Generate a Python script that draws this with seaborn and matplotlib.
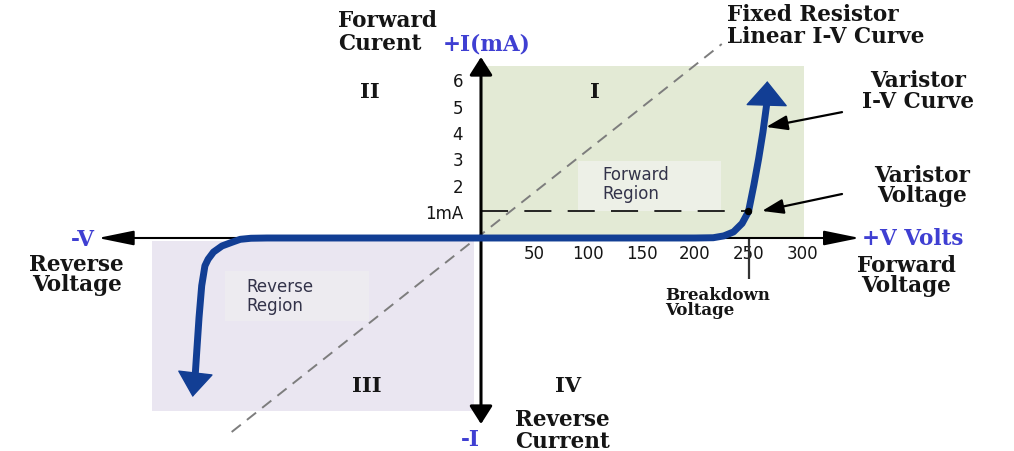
import matplotlib
matplotlib.use("Agg")
import matplotlib.pyplot as plt
from matplotlib.patches import Rectangle
import seaborn as sns

# ---- data -----------------------------------------------------------------
# Varistor I-V characteristic, forward branch (volts, mA)
fwd_volts = [0, 100, 200, 217, 227, 236, 244, 250, 255, 259.5, 263.5, 267]
fwd_ma = [0, 0, 0, 0.01, 0.08, 0.23, 0.55, 1.0, 2.0, 3.0, 4.0, 5.05]
fwd_tip_volts, fwd_tip_ma = 267.6, 5.92

# Reverse branch (volts, mA)
rev_volts = [0, -100, -200, -215, -225, -232, -242, -250, -255, -258, -261,
             -263.5, -265.5, -267]
rev_ma = [0, 0, 0, -0.01, -0.05, -0.15, -0.3, -0.53, -0.8, -1.05, -1.8,
          -3.0, -4.2, -5.13]
rev_tip_volts, rev_tip_ma = -269.5, -6.0

# Fixed resistor: straight line through the origin
resistor_volts = [-233, 225]
resistor_ma = [-7.32, 7.32]

# Varistor voltage at the 1 mA reference current
varistor_voltage = 250
varistor_current = 1.0

x_ticks = [50, 100, 150, 200, 250, 300]
y_ticks = [1, 2, 3, 4, 5, 6]
y_tick_labels = ["1mA", "2", "3", "4", "5", "6"]

# ---- style ----------------------------------------------------------------
sns.set_theme(style="white")
plt.rcParams["font.family"] = ["DejaVu Sans"]

BLUE = "#123e94"
LABEL_BLUE = "#3f3fd2"
INK = "#151515"
GREEN = "#e3ead5"
LILAC = "#eae6f1"
BIG = 15.5
SERIF = dict(family="DejaVu Serif", weight="bold", color=INK)
BLUE_SERIF = dict(family="DejaVu Serif", weight="bold", color=LABEL_BLUE)

fig = plt.figure(figsize=(10.14, 4.52), dpi=100)
ax = fig.add_axes([0, 0, 1, 1])
ax.set_xlim(-449.5, 498.1)
ax.set_ylim(-8.038, 9.019)
for side in ax.spines.values():
    side.set_visible(False)
ax.spines["bottom"].set_position(("data", 0))
ax.spines["left"].set_position(("data", 0))

# quadrant shading and region boxes
ax.add_patch(Rectangle((0, 0), 302, 6.5, fc=GREEN, ec="none", zorder=0))
ax.add_patch(Rectangle((-307, -6.53), 300, 6.42, fc=LILAC, ec="none", zorder=0))
ax.add_patch(Rectangle((91, 1.0), 133, 1.9, fc="#edf0e7", ec="none", zorder=0.5))
ax.add_patch(Rectangle((-239, -3.13), 134, 1.88, fc="#edebf0", ec="none", zorder=0.5))

# fixed resistor line
sns.lineplot(x=resistor_volts, y=resistor_ma, ax=ax, color="#7d7d7d", lw=1.4,
             linestyle=(0, (6, 4)), estimator=None, sort=False, zorder=1)

# 1 mA reference line
sns.lineplot(x=[0, varistor_voltage], y=[varistor_current, varistor_current],
             ax=ax, color=INK, lw=1.3, linestyle=(0, (15, 9)),
             estimator=None, sort=False, zorder=2)
ax.vlines(varistor_voltage, -1.55, 0, color="#333333", lw=1.6, zorder=2)

# axes with arrow heads
ax.annotate("", xy=(354, 0), xytext=(-358, 0),
            arrowprops=dict(arrowstyle="<|-|>,head_length=2.2,head_width=0.45",
                            color="black", lw=1.5, shrinkA=0, shrinkB=0,
                            mutation_scale=10), zorder=3)
ax.annotate("", xy=(0, 6.83), xytext=(0, -7.02),
            arrowprops=dict(arrowstyle="<|-|>,head_length=1.1,head_width=0.7",
                            color="black", lw=2.2, shrinkA=0, shrinkB=0,
                            mutation_scale=10), zorder=3)

# varistor curve
for vx, iy in ((fwd_volts, fwd_ma), (rev_volts, rev_ma)):
    sns.lineplot(x=vx, y=iy, ax=ax, color=BLUE, lw=5, estimator=None,
                 sort=False, zorder=5, solid_capstyle="butt",
                 solid_joinstyle="round")
ax.annotate("", xy=(fwd_tip_volts, fwd_tip_ma), xytext=(fwd_volts[-1], fwd_ma[-1]),
            arrowprops=dict(arrowstyle="-|>,head_length=1.65,head_width=1.4",
                            color=BLUE, lw=1, shrinkA=0, shrinkB=0,
                            mutation_scale=10), zorder=5)
ax.annotate("", xy=(rev_tip_volts, rev_tip_ma), xytext=(rev_volts[-1], rev_ma[-1]),
            arrowprops=dict(arrowstyle="-|>,head_length=1.65,head_width=1.2",
                            color=BLUE, lw=1, shrinkA=0, shrinkB=0,
                            mutation_scale=10), zorder=5)
sns.scatterplot(x=[varistor_voltage], y=[varistor_current], ax=ax, color="black",
                s=28, zorder=6, edgecolor="none")

# pointer arrows
for tail, tip in (((337.4, 4.75), (266.5, 4.19)), ((337.4, 1.66), (262.6, 1.02))):
    ax.annotate("", xy=tip, xytext=tail,
                arrowprops=dict(arrowstyle="-|>,head_length=1.3,head_width=0.45",
                                color="black", lw=1.6, shrinkA=0, shrinkB=0,
                                mutation_scale=10), zorder=4)

# ticks
ax.set_xticks(x_ticks)
ax.set_yticks(y_ticks)
ax.set_yticklabels(y_tick_labels)
ax.tick_params(axis="both", length=0, labelsize=12, labelcolor=INK)
ax.tick_params(axis="x", pad=4)
ax.tick_params(axis="y", pad=13)
ax.grid(False)

# labels (y is the baseline of the last line, in data units)
def label(x, y, text, ha="left", ma="left", size=BIG, spacing=1.2, style=SERIF):
    ax.text(x, y, text, ha=ha, va="baseline", multialignment=ma,
            fontsize=size, linespacing=spacing, **style)

label(-41, 7.13, "Forward\nCurent", ha="right", spacing=1.05)
label(-35.5, 7.13, "+I(mA)", style=BLUE_SERIF)
label(229.9, 7.40, "Fixed Resistor\nLinear I-V Curve", spacing=0.98)
label(408, 4.94, "Varistor\nI-V Curve", ha="center", ma="center", spacing=0.93)
label(412, 1.40, "Varistor\nVoltage", ha="center", ma="center", spacing=0.86)
label(356, -0.23, "+V Volts", style=BLUE_SERIF)
label(351.4, -2.0, "Forward\nVoltage", ma="center", spacing=0.86)
label(172, -2.87, "Breakdown\nVoltage", size=12, spacing=0.86)
label(-361, -0.26, "-V", ha="right", style=BLUE_SERIF)
label(-378, -1.96, "Reverse\nVoltage", ha="center", ma="center", spacing=0.86)
label(31.8, -7.89, "Reverse\nCurrent", spacing=0.98)
label(-10, -7.81, "-I", ha="center", style=BLUE_SERIF)

for txt, vx in (("II", -104), ("I", 106.5)):
    label(vx, 5.32, txt, ha="center", size=15)
for txt, vx in (("III", -106.5), ("IV", 81)):
    label(vx, -5.77, txt, ha="center", size=15)

REGION = dict(family="DejaVu Sans", weight="normal", color="#33334a")
label(113, 1.51, "Forward\nRegion", size=12, spacing=1.1, style=REGION)
label(-219, -2.72, "Reverse\nRegion", size=12, spacing=1.1, style=REGION)

fig.savefig("out.png", dpi=100, facecolor="white")
